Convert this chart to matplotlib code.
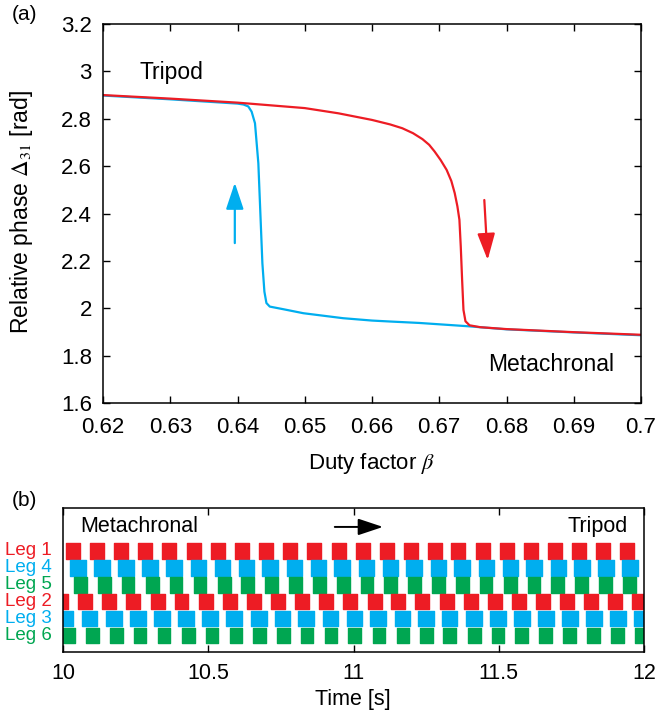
import matplotlib
matplotlib.use("Agg")
import matplotlib.pyplot as plt

plt.rcParams["font.family"] = ["Liberation Sans", "DejaVu Sans"]
plt.rcParams["mathtext.fontset"] = "stix"
plt.rcParams["font.size"] = 15

RED = "#ed1c24"
BLUE = "#00aeef"
GREEN = "#00a651"

# ---- panel (a): relative phase vs duty factor ----
red_beta = [0.62, 0.63, 0.64, 0.65, 0.655, 0.66, 0.6627, 0.6645, 0.6661, 0.6675,
            0.6685, 0.6693, 0.6702, 0.6711, 0.6718, 0.6723, 0.6727, 0.6730, 0.6732,
            0.6734, 0.6736, 0.6739, 0.6745, 0.6761, 0.68, 0.69, 0.70]
red_phase = [2.900, 2.885, 2.868, 2.845, 2.823, 2.795, 2.776, 2.760, 2.739, 2.714,
             2.690, 2.662, 2.626, 2.584, 2.537, 2.486, 2.430, 2.373, 2.260,
             2.120, 1.993, 1.945, 1.928, 1.920, 1.912, 1.899, 1.888]

blue_beta = [0.62, 0.63, 0.64, 0.6409, 0.6416, 0.6421, 0.6426, 0.6431, 0.6434, 0.6437,
             0.6440, 0.6443, 0.6448, 0.6468, 0.6498, 0.6557, 0.66, 0.6627, 0.667,
             0.6743, 0.68, 0.69, 0.70]
blue_phase = [2.898, 2.882, 2.864, 2.860, 2.852, 2.830, 2.781, 2.612, 2.401, 2.190,
              2.070, 2.022, 2.007, 1.996, 1.979, 1.958, 1.948, 1.944, 1.938,
              1.924, 1.911, 1.898, 1.886]

beta_ticks = [0.62, 0.63, 0.64, 0.65, 0.66, 0.67, 0.68, 0.69, 0.70]
beta_labels = ["0.62", "0.63", "0.64", "0.65", "0.66", "0.67", "0.68", "0.69", "0.7"]
phase_ticks = [1.6, 1.8, 2.0, 2.2, 2.4, 2.6, 2.8, 3.0, 3.2]
phase_labels = ["1.6", "1.8", "2", "2.2", "2.4", "2.6", "2.8", "3", "3.2"]

# ---- panel (b): leg stance bars (onset times) ----
leg_names = ["Leg 1", "Leg 4", "Leg 5", "Leg 2", "Leg 3", "Leg 6"]
leg_colors = [RED, BLUE, GREEN, RED, BLUE, GREEN]
leg_widths = [0.048, 0.054, 0.044, 0.048, 0.054, 0.044]

leg1 = [10.009, 10.092, 10.176, 10.258, 10.341, 10.425, 10.508, 10.591, 10.674, 10.757,
        10.840, 10.924, 11.007, 11.090, 11.173, 11.256, 11.337, 11.420, 11.503, 11.586,
        11.670, 11.752, 11.834, 11.917]
leg4 = [10.023, 10.106, 10.189, 10.272, 10.355, 10.439, 10.521, 10.604, 10.686, 10.769,
        10.852, 10.934, 11.017, 11.100, 11.182, 11.265, 11.346, 11.430, 11.513, 11.595,
        11.678, 11.759, 11.842, 11.924]
leg5 = [10.037, 10.119, 10.201, 10.284, 10.366, 10.449, 10.532, 10.613, 10.695, 10.778,
        10.860, 10.942, 11.024, 11.105, 11.188, 11.270, 11.352, 11.434, 11.517, 11.599,
        11.681, 11.764, 11.846, 11.928]
leg2 = [9.969, 10.050, 10.133, 10.217, 10.301, 10.383, 10.467, 10.550, 10.633, 10.716,
        10.799, 10.881, 10.964, 11.048, 11.130, 11.213, 11.296, 11.379, 11.462, 11.545,
        11.627, 11.710, 11.792, 11.876, 11.959]
leg3 = [9.981, 10.063, 10.147, 10.231, 10.313, 10.396, 10.478, 10.561, 10.646, 10.728,
        10.810, 10.893, 10.976, 11.058, 11.141, 11.223, 11.303, 11.387, 11.470, 11.553,
        11.635, 11.718, 11.800, 11.883, 11.966]
leg6 = [9.995, 10.078, 10.160, 10.242, 10.325, 10.408, 10.490, 10.573, 10.654, 10.736,
        10.817, 10.900, 10.982, 11.065, 11.148, 11.230, 11.309, 11.393, 11.475, 11.557,
        11.640, 11.721, 11.804, 11.888, 11.968]
leg_onsets = [leg1, leg4, leg5, leg2, leg3, leg6]

time_ticks = [10, 10.5, 11, 11.5, 12]
time_labels = ["10", "10.5", "11", "11.5", "12"]

fig = plt.figure(figsize=(6.59, 7.18), dpi=100)

# panel (a)
ax1 = fig.add_axes([103 / 659, 1 - 403 / 718, 538 / 659, 379 / 718])
ax1.plot(blue_beta, blue_phase, color=BLUE, lw=1.6)
ax1.plot(red_beta, red_phase, color=RED, lw=1.6)
ax1.set_xlim(0.62, 0.70)
ax1.set_ylim(1.6, 3.2)
ax1.set_xticks(beta_ticks, beta_labels)
ax1.set_yticks(phase_ticks, phase_labels)
ax1.tick_params(direction="in", top=True, right=True, length=5, width=1, labelsize=16)
ax1.tick_params(axis="x", pad=10)
ax1.tick_params(axis="y", pad=8)
for s in ax1.spines.values():
    s.set_linewidth(1.1)

arrow_style = "-|>,head_length=0.9,head_width=0.3"
ax1.annotate("", xy=(0.6396, 2.53), xytext=(0.6396, 2.275),
             arrowprops=dict(arrowstyle=arrow_style, color=BLUE, lw=1.6,
                             mutation_scale=18, shrinkA=0, shrinkB=0))
ax1.annotate("", xy=(0.6772, 2.204), xytext=(0.6767, 2.457),
             arrowprops=dict(arrowstyle=arrow_style, color=RED, lw=1.6,
                             mutation_scale=18, shrinkA=0, shrinkB=0))
ax1.text(0.6255, 2.997, "Tripod", fontsize=16.5, va="center", ha="left")
ax1.text(0.6773, 1.761, "Metachronal", fontsize=16.5, va="center", ha="left")

fig.text(22 / 659, 1 - 212 / 718, r"Relative phase $\mathit{\Delta}_{\mathrm{31}}$ [rad]",
         rotation=90, ha="center", va="center", fontsize=16.5)
fig.text(372 / 659, 1 - 463 / 718, r"Duty factor $\mathit{\beta}$",
         ha="center", va="center", fontsize=16)
fig.text(12 / 659, 1 - 14 / 718, "(a)", ha="left", va="center", fontsize=15)

# panel (b)
ax2 = fig.add_axes([63.3 / 659, 1 - 652 / 718, 580.7 / 659, 144 / 718])
for i, (onsets, col, w) in enumerate(zip(leg_onsets, leg_colors, leg_widths)):
    ax2.broken_barh([(t, w) for t in onsets], (i + 2.08, 0.92), color=col)
    ax2.text(-0.02, i + 2.54, leg_names[i], color=col, fontsize=13.5,
             ha="right", va="center", transform=ax2.get_yaxis_transform())
ax2.set_xlim(10, 12)
ax2.set_ylim(8.52, 0)
ax2.set_xticks(time_ticks, time_labels)
ax2.set_yticks([])
ax2.tick_params(direction="in", top=True, length=5, width=1, labelsize=15.5, pad=8)
for s in ax2.spines.values():
    s.set_linewidth(1.1)

ax2.text(10.057, 1.12, "Metachronal", fontsize=15.5, va="center", ha="left")
ax2.text(11.944, 1.12, "Tripod", fontsize=15.5, va="center", ha="right")
ax2.annotate("", xy=(11.101, 1.12), xytext=(10.935, 1.12),
             arrowprops=dict(arrowstyle=arrow_style, color="black", lw=1.4,
                             mutation_scale=17, shrinkA=0, shrinkB=0))

fig.text(353 / 659, 1 - 700 / 718, "Time [s]", ha="center", va="center", fontsize=15.5)
fig.text(12 / 659, 1 - 500 / 718, "(b)", ha="left", va="center", fontsize=15)

fig.savefig("out.png", dpi=100)
